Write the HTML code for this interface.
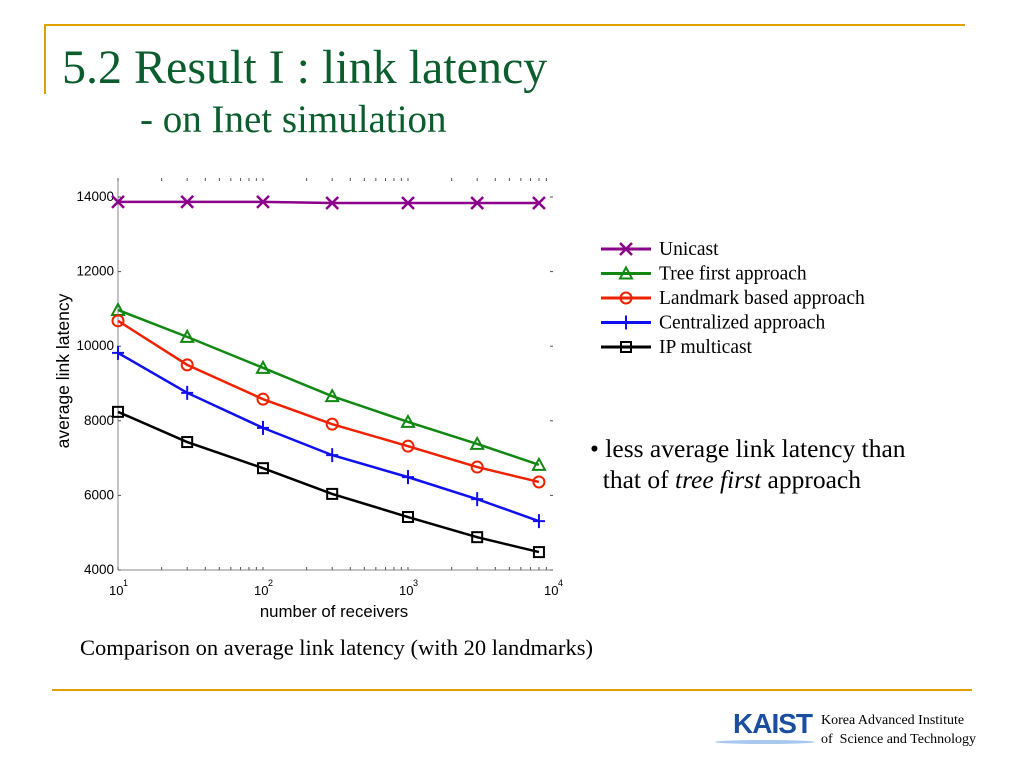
<!DOCTYPE html>
<html><head><meta charset="utf-8"><style>
body{margin:0;width:1024px;height:768px;background:#fff;position:relative;overflow:hidden;font-family:"Liberation Serif",serif}
.abs{position:absolute}
</style></head><body>
<div class="abs" style="left:45px;top:24px;width:920px;height:2px;background:#e0a000"></div>
<div class="abs" style="left:44px;top:24px;width:2px;height:70px;background:#e0a000"></div>
<div class="abs" style="left:62px;top:40px;font-size:48px;color:#0b5d2e;line-height:56px">5.2 Result I : link latency</div>
<div class="abs" style="left:140px;top:98px;font-size:39px;color:#0b5d2e;line-height:44px">- on Inet simulation</div>
<svg class="abs" style="left:0;top:0" width="1024" height="768" id="chart"></svg>
<div class="abs" style="left:590px;top:433px;font-size:25.5px;line-height:31px;color:#000">• less average link latency than<br>&nbsp;&nbsp;that of <i>tree first</i> approach</div>
<div class="abs" style="left:80px;top:635px;font-size:22.5px;color:#000">Comparison on average link latency (with 20 landmarks)</div>
<div class="abs" style="left:52px;top:689px;width:920px;height:2px;background:#e0a000"></div>
<div class="abs" style="left:733px;top:709px;font-family:'Liberation Sans',sans-serif;font-weight:bold;font-size:28px;color:#1a4fa0;letter-spacing:-1px;line-height:30px">KAIST</div>
<div class="abs" style="left:715px;top:740px;width:100px;height:4px;background:#a8c8f0;border-radius:50%"></div>
<div class="abs" style="left:821px;top:711px;font-size:14px;line-height:19px;color:#000">Korea Advanced Institute<br>of&nbsp; Science and Technology</div>
<script>
const xs=[10,30,100,300,1000,3000,8000];
const unicast=[13870,13870,13870,13840,13840,13840,13840];
const tree=[10970,10250,9420,8660,7970,7380,6820];
const landmark=[10680,9500,8580,7910,7320,6760,6360];
const central=[9820,8750,7810,7080,6490,5900,5310];
const ipm=[8240,7430,6730,6040,5420,4880,4480];
const yTicks=[4000,6000,8000,10000,12000,14000];
const xTicks=[1,2,3,4];
const NS="http://www.w3.org/2000/svg";
const svg=document.getElementById('chart');
const X=v=>118+(Math.log10(v)-1)*145;
const Y=v=>570-(v-4000)*0.0373;
function el(t,a,p){const e=document.createElementNS(NS,t);for(const k in a)e.setAttribute(k,a[k]);(p||svg).appendChild(e);return e;}
let ax=el('line',{x1:118,y1:178,x2:118,y2:570,stroke:'#888'});

let bx=el('line',{x1:118,y1:570,x2:553,y2:570,stroke:'#888'});

for(let d=1;d<4;d++)for(let m=1;m<10;m++){const x=X(Math.pow(10,d)*m);
 el('line',{x1:x,y1:178,x2:x,y2:181,stroke:'#555'});el('line',{x1:x,y1:567,x2:x,y2:570,stroke:'#555'});}
yTicks.forEach(v=>{const y=Y(v);el('line',{x1:118,y1:y,x2:121,y2:y,stroke:'#555'});el('line',{x1:550,y1:y,x2:553,y2:y,stroke:'#555'});
 const t=el('text',{x:114,y:y+4,'text-anchor':'end','font-size':13.5,'font-family':'Liberation Sans,sans-serif'});t.textContent=v;
 });
xTicks.forEach(p=>{const x=X(Math.pow(10,p));const t=el('text',{x:x-9,y:595,'font-size':13,'font-family':'Liberation Sans,sans-serif'});t.textContent='10';
 const s=el('text',{x:x+5,y:586,'font-size':9,'font-family':'Liberation Sans,sans-serif'});s.textContent=p;
 });
let xl=el('text',{x:334,y:617,'text-anchor':'middle','font-size':16.8,'font-family':'Liberation Sans,sans-serif'});xl.textContent='number of receivers';

let yl=el('text',{x:0,y:0,'text-anchor':'middle','font-size':17.5,'font-family':'Liberation Sans,sans-serif',transform:'translate(69,371) rotate(-90)'});yl.textContent='average link latency';

function marker(k,x,y,c,g){const s=6;
 if(k=='x'){el('path',{d:`M${x-s} ${y-s}L${x+s} ${y+s}M${x-s} ${y+s}L${x+s} ${y-s}`,stroke:c,'stroke-width':2.5,fill:'none'},g);}
 else if(k=='t'){el('path',{d:`M${x} ${y-6}L${x+6} ${y+5}L${x-6} ${y+5}Z`,stroke:c,'stroke-width':2,fill:'none'},g);}
 else if(k=='o'){el('circle',{cx:x,cy:y,r:5.5,stroke:c,'stroke-width':2,fill:'none'},g);}
 else if(k=='+'){el('path',{d:`M${x-6} ${y}L${x+6} ${y}M${x} ${y-7}L${x} ${y+7}`,stroke:c,'stroke-width':2,fill:'none'},g);}
 else {el('rect',{x:x-5,y:y-5,width:10,height:10,stroke:c,'stroke-width':2,fill:'none'},g);}}
const series=[['unicast',unicast,'#8b008b','x','Unicast'],['tree-first',tree,'#118811','t','Tree first approach'],['landmark',landmark,'#ee2200','o','Landmark based approach'],['centralized',central,'#1010ee','+','Centralized approach'],['ip-multicast',ipm,'#000','s','IP multicast']];
series.forEach((s,i)=>{const g=el('g',{});
 
 el('polyline',{points:xs.map((x,j)=>X(x)+','+Y(s[1][j])).join(' '),stroke:s[2],'stroke-width':2.5,fill:'none'},g);
 xs.forEach((x,j)=>marker(s[3],X(x),Y(s[1][j]),s[2],g));
 const ly=249+i*24.5;const lg=el('g',{});
 
 el('line',{x1:601,y1:ly,x2:651,y2:ly,stroke:s[2],'stroke-width':3},lg);marker(s[3],626,ly,s[2],lg);
 const t=el('text',{x:659,y:ly+6,'font-size':19.5,'font-family':'Liberation Serif,serif'},lg);t.textContent=s[4];});
</script>
</body></html>
